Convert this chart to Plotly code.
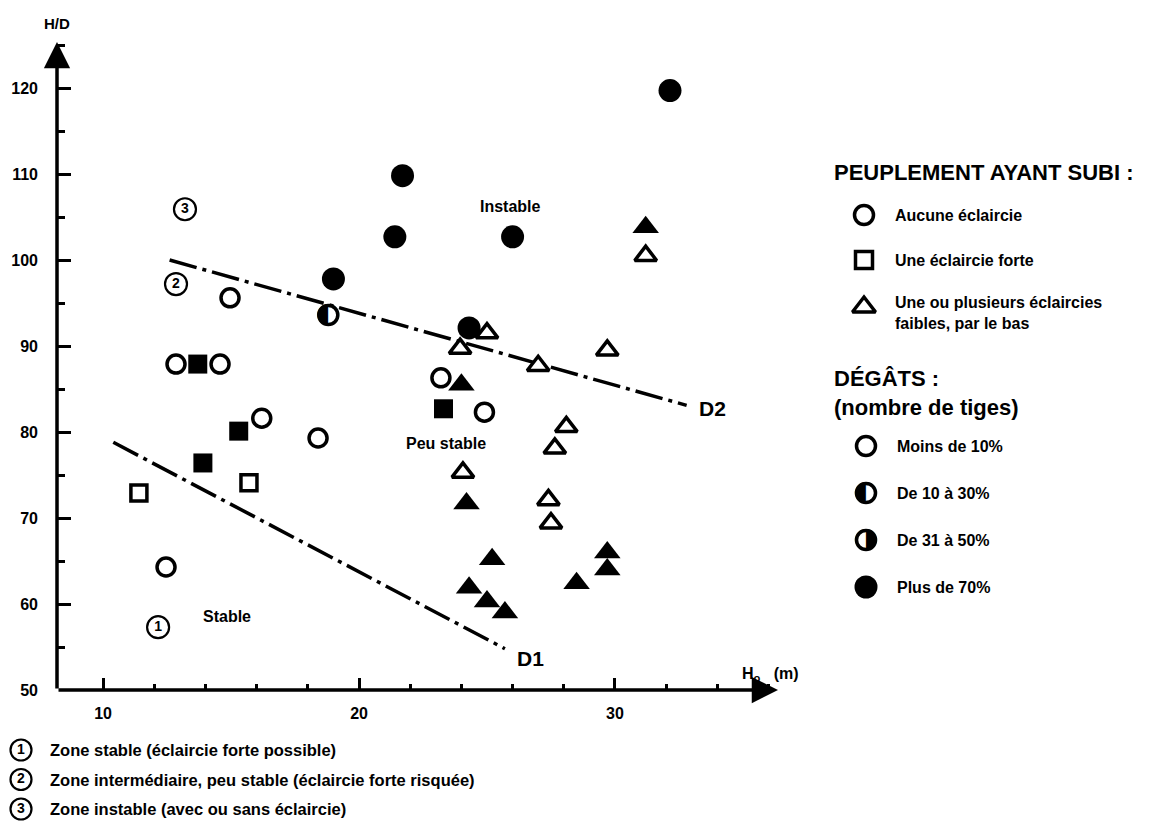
import plotly.graph_objects as go

W, H = 1158, 821

# ---------------- data (H0 in m, H/D) ----------------
# "Aucune éclaircie" – moins de 10% de dégâts (open circles)
circ_open_x = [14.96, 12.85, 14.57, 16.2, 18.4, 23.2, 24.9, 12.46]
circ_open_y = [95.6, 87.9, 87.9, 81.6, 79.3, 86.3, 82.3, 64.3]
# "Aucune éclaircie" – plus de 70% (filled circles)
circ_full_x = [32.15, 21.7, 21.4, 26.0, 19.0, 24.3]
circ_full_y = [119.7, 109.8, 102.7, 102.7, 97.8, 92.1]
# "Aucune éclaircie" – de 10 à 30% (half circle)
circ_half_x = [18.8]
circ_half_y = [93.6]
# "Une éclaircie forte" – moins de 10%
sq_open_x = [11.4, 15.7]
sq_open_y = [72.9, 74.1]
# "Une éclaircie forte" – plus de 70%
sq_full_x = [13.7, 15.3, 13.9, 23.3]
sq_full_y = [87.9, 80.1, 76.4, 82.7]
# "Une ou plusieurs éclaircies faibles" – moins de 10%
tri_open_x = [31.2, 25.0, 23.95, 27.0, 29.7, 28.1, 27.65, 24.06, 27.4, 27.5]
tri_open_y = [100.5, 91.5, 89.7, 87.7, 89.5, 80.6, 78.1, 75.3, 72.1, 69.4]
# "Une ou plusieurs éclaircies faibles" – plus de 70%
tri_full_x = [31.2, 24.0, 24.2, 25.2, 24.3, 25.0, 25.7, 28.5, 29.7, 29.7]
tri_full_y = [103.8, 85.5, 71.7, 65.2, 61.9, 60.3, 59.0, 62.4, 66.0, 64.0]

# limit lines D1, D2 (end points)
d1_x = [10.4, 25.7]
d1_y = [78.8, 54.8]
d2_x = [12.6, 32.8]
d2_y = [100.0, 83.1]

# zone labels
zone_num = ["3", "2", "1"]
zone_x = [13.2, 12.85, 12.15]
zone_y = [105.9, 97.2, 57.3]
region_text = ["Instable", "Peu stable", "Stable"]
region_x = [25.9, 23.4, 14.84]
region_y = [106.2, 78.7, 58.5]

x_ticks = [10, 20, 30]
y_ticks = [50, 60, 70, 80, 90, 100, 110, 120]

legend1_title = "PEUPLEMENT AYANT SUBI :"
legend1_labels = ["Aucune éclaircie", "Une éclaircie forte",
                  "Une ou plusieurs éclaircies<br>faibles, par le bas"]
legend1_symbols = ["circle", "square", "triangle-up"]
legend2_title = "DÉGÂTS :<br>(nombre de tiges)"
legend2_labels = ["Moins de 10%", "De 10 à 30%", "De 31 à 50%", "Plus de 70%"]
legend2_kind = ["open", "half-left", "half-right", "full"]

notes_num = ["1", "2", "3"]
notes_text = ["Zone stable (éclaircie forte possible)",
              "Zone intermédiaire, peu stable (éclaircie forte risquée)",
              "Zone instable (avec ou sans éclaircie)"]

# ---------------- styling ----------------
FONT = "Liberation Sans"
BLACK = "black"
X_RANGE = [8.2, 36.37]
Y_RANGE = [50, 125.35]
LW = 3.5

fig = go.Figure()

def dline(x, y):
    fig.add_trace(go.Scatter(x=x, y=y, mode="lines", hoverinfo="skip",
                             line=dict(color=BLACK, width=3.5, dash="28px,6px,4px,6px"),
                             showlegend=False))

dline(d1_x, d1_y)
dline(d2_x, d2_y)

def markers(x, y, symbol, size, filled, xa="x", ya="y"):
    fig.add_trace(go.Scatter(
        x=x, y=y, mode="markers", xaxis=xa, yaxis=ya, showlegend=False,
        cliponaxis=False,
        marker=dict(symbol=symbol, size=size,
                    color=BLACK if filled else "white",
                    line=dict(color=BLACK, width=0 if filled else LW))))

def half(x, y, glyph, xa="x", ya="y"):
    fig.add_trace(go.Scatter(
        x=x, y=y, mode="markers", xaxis=xa, yaxis=ya, showlegend=False, cliponaxis=False,
        marker=dict(symbol="circle", size=19, color="white", line=dict(color=BLACK, width=LW))))
    fig.add_trace(go.Scatter(
        x=x, y=y, mode="text", text=[glyph] * len(x), xaxis=xa, yaxis=ya, showlegend=False,
        cliponaxis=False, textposition="middle center",
        textfont=dict(family="DejaVu Sans", size=28, color=BLACK)))

markers(circ_open_x, circ_open_y, "circle", 18, False)
markers(sq_full_x, sq_full_y, "square", 19, True)
markers(circ_full_x, circ_full_y, "circle", 23, True)
half(circ_half_x, circ_half_y, "◐")
markers(sq_open_x, sq_open_y, "square", 16, False)
markers(tri_open_x, tri_open_y, "triangle-up", 19, False)
markers(tri_full_x, tri_full_y, "triangle-up", 23, True)

# circled zone numbers
fig.add_trace(go.Scatter(
    x=zone_x, y=zone_y, mode="markers+text", text=zone_num, textposition="middle center",
    showlegend=False, cliponaxis=False,
    marker=dict(symbol="circle", size=22, color="white", line=dict(color=BLACK, width=2.2)),
    textfont=dict(family=FONT, size=14, color=BLACK, weight="bold")))

# ---------------- auxiliary pixel axis for legend / notes ----------------
lg1_x = 864
lg1_y0, lg1_dy = 215, 45
for i, (lab, sym) in enumerate(zip(legend1_labels, legend1_symbols)):
    yy = lg1_y0 + i * lg1_dy
    size = {"circle": 19, "square": 17, "triangle-up": 20}[sym]
    markers([lg1_x], [yy + (2 if sym == "triangle-up" else 0)], sym, size, False, "x2", "y2")
    fig.add_annotation(x=lg1_x + 29, y=yy + (8 if "<br>" in lab else 0), xref="x2", yref="y2",
                       text="<b>%s</b>" % lab, showarrow=False, xanchor="left", yanchor="middle",
                       align="left", font=dict(family=FONT, size=16, color=BLACK))
fig.add_annotation(x=832, y=172, xref="x2", yref="y2", text="<b>%s</b>" % legend1_title,
                   showarrow=False, xanchor="left", yanchor="middle",
                   font=dict(family=FONT, size=22, color=BLACK))
fig.add_annotation(x=832, y=393, xref="x2", yref="y2", text="<b>%s</b>" % legend2_title,
                   showarrow=False, xanchor="left", yanchor="middle", align="left",
                   font=dict(family=FONT, size=22, color=BLACK))

lg2_x = 866
lg2_y0, lg2_dy = 446, 47
for i, (lab, kind) in enumerate(zip(legend2_labels, legend2_kind)):
    yy = lg2_y0 + i * lg2_dy
    if kind == "open":
        markers([lg2_x], [yy], "circle", 19, False, "x2", "y2")
    elif kind == "full":
        markers([lg2_x], [yy], "circle", 23, True, "x2", "y2")
    elif kind == "half-left":
        half([lg2_x], [yy], "◐", "x2", "y2")
    else:
        half([lg2_x], [yy], "◑", "x2", "y2")
    fig.add_annotation(x=lg2_x + 29, y=yy, xref="x2", yref="y2",
                       text="<b>%s</b>" % lab, showarrow=False, xanchor="left", yanchor="middle",
                       font=dict(family=FONT, size=16, color=BLACK))

# notes under the chart
nt_x = 21
nt_y0, nt_dy = 750, 29.5
fig.add_trace(go.Scatter(
    x=[nt_x] * len(notes_num), y=[nt_y0 + i * nt_dy for i in range(len(notes_num))],
    xaxis="x2", yaxis="y2", mode="markers+text", text=notes_num, textposition="middle center",
    showlegend=False, cliponaxis=False,
    marker=dict(symbol="circle", size=21, color="white", line=dict(color=BLACK, width=2.2)),
    textfont=dict(family=FONT, size=14, color=BLACK, weight="bold")))
for i, t in enumerate(notes_text):
    fig.add_annotation(x=48, y=nt_y0 + i * nt_dy, xref="x2", yref="y2", text="<b>%s</b>" % t,
                       showarrow=False, xanchor="left", yanchor="middle",
                       font=dict(family=FONT, size=16.5, color=BLACK))

# ---------------- chart texts ----------------
for t, x, y in zip(region_text, region_x, region_y):
    fig.add_annotation(x=x, y=y, text="<b>%s</b>" % t, showarrow=False,
                       font=dict(family=FONT, size=16, color=BLACK))
fig.add_annotation(x=26.7, y=53.7, text="<b>D1</b>", showarrow=False,
                   font=dict(family=FONT, size=21, color=BLACK))
fig.add_annotation(x=33.8, y=82.7, text="<b>D2</b>", showarrow=False,
                   font=dict(family=FONT, size=21, color=BLACK))

# axes with arrows
fig.add_annotation(x=X_RANGE[1], y=Y_RANGE[0], ax=X_RANGE[0], ay=Y_RANGE[0],
                   xref="x", yref="y", axref="x", ayref="y", text="", showarrow=True,
                   arrowhead=2, arrowsize=1.5, arrowwidth=3.5, arrowcolor=BLACK)
fig.add_annotation(x=X_RANGE[0], y=Y_RANGE[1], ax=X_RANGE[0], ay=Y_RANGE[0],
                   xref="x", yref="y", axref="x", ayref="y", text="", showarrow=True,
                   arrowhead=2, arrowsize=1.5, arrowwidth=3.5, arrowcolor=BLACK)
fig.add_annotation(x=57, y=23, xref="x2", yref="y2", text="<b>H/D</b>", showarrow=False,
                   font=dict(family=FONT, size=15, color=BLACK))
fig.add_annotation(x=740, y=674, xref="x2", yref="y2", text="<b>H<sub>o</sub>   (m)</b>",
                   showarrow=False, xanchor="left", yanchor="middle",
                   font=dict(family=FONT, size=16, color=BLACK))

tickfont = dict(family=FONT, size=16, color=BLACK, weight="bold")
fig.update_layout(
    width=W, height=H, margin=dict(l=0, r=0, t=0, b=0, autoexpand=False),
    paper_bgcolor="white", plot_bgcolor="rgba(0,0,0,0)", showlegend=False,
    xaxis=dict(domain=[57 / W, 778 / W], range=X_RANGE, tickvals=x_ticks, automargin=False,
               ticks="inside", ticklen=12, tickwidth=3, tickcolor=BLACK,
               minor=dict(ticks="inside", ticklen=6, tickwidth=3, tickcolor=BLACK, tick0=10, dtick=2),
               showgrid=False, zeroline=False, showline=False, tickfont=tickfont,
               ticklabelstandoff=12),
    yaxis=dict(domain=[1 - 690 / H, 1 - 42 / H], range=Y_RANGE, tickvals=y_ticks, automargin=False,
               ticks="inside", ticklen=14, tickwidth=3, tickcolor=BLACK,
               minor=dict(ticks="inside", ticklen=8, tickwidth=3, tickcolor=BLACK, tick0=50, dtick=5),
               showgrid=False, zeroline=False, showline=False, tickfont=tickfont,
               ticklabelstandoff=18),
    xaxis2=dict(domain=[0, 1], range=[0, W], visible=False, anchor="y2", automargin=False),
    yaxis2=dict(domain=[0, 1], range=[H, 0], visible=False, anchor="x2", automargin=False),
)

fig.write_html("out.html", config={"displayModeBar": False},
               post_script="document.body.style.margin='0';document.body.style.padding='0';")
